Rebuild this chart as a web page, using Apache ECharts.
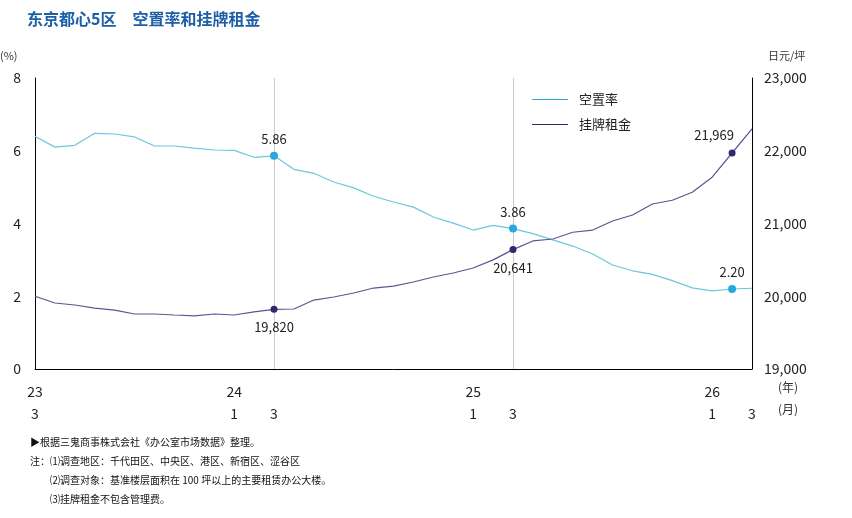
<!DOCTYPE html>
<html><head><meta charset="utf-8">
<script src="https://cdn.jsdelivr.net/npm/echarts@6/dist/echarts.min.js"></script>
<style>body{margin:0}#main{width:852px;height:518px}</style>
</head><body><div id="main"></div>
<script>
// 2023/3 ~ 2026/3 月度
var months = [];
for (var i = 0; i < 37; i++) months.push(i);
var vacancy = [6.40,6.10,6.15,6.48,6.46,6.38,6.13,6.13,6.07,6.02,6.01,5.82,5.86,5.49,5.38,5.14,4.98,4.75,4.59,4.45,4.18,4.01,3.82,3.95,3.86,3.72,3.55,3.38,3.16,2.86,2.70,2.60,2.43,2.23,2.15,2.20,2.22];
var rent = [20000,19907,19880,19838,19810,19756,19756,19742,19729,19756,19742,19784,19820,19825,19948,19990,20045,20113,20140,20196,20265,20320,20388,20500,20641,20760,20787,20880,20910,21034,21117,21268,21320,21430,21637,21969,22302];
var xLabels = {0:'23\n3',10:'24\n1',12:'\n3',22:'25\n1',24:'\n3',34:'26\n1',36:'\n3'};
var vacMarks = {12:'top',24:'top',35:'top'};
var rentMarks = {12:'bottom',24:'bottom',35:'top'};

var vacData = vacancy.map(function(v, i){
  var d = {value: v};
  if (vacMarks[i]) {
    d.symbol = 'circle'; d.symbolSize = 8;
    d.label = {show: true, position: vacMarks[i], formatter: v.toFixed(2), distance: 6};
  }
  if (i == 36) {
    d.symbol = 'circle'; d.symbolSize = 1; d.itemStyle = {opacity: 0};
    d.label = {show: true, position: 'right', formatter: v.toFixed(2), offset: [4,-6]};
  }
  return d;
});
var rentData = rent.map(function(v, i){
  var d = {value: v};
  if (rentMarks[i]) {
    d.symbol = 'circle'; d.symbolSize = 7;
    d.label = {show: true, position: rentMarks[i], formatter: v.toLocaleString('en-US'), distance: 8};
  }
  if (i == 35) d.label.offset = [-18, 0];
  if (i == 36) {
    d.symbol = 'circle'; d.symbolSize = 1; d.itemStyle = {opacity: 0};
    d.label = {show: true, position: 'right', formatter: v.toLocaleString('en-US'), offset: [4,0]};
  }
  return d;
});

var myecharts = echarts.init(document.getElementById('main'));
var font = '"Noto Sans CJK SC", "Noto Sans", sans-serif';
var option = {
  textStyle: {fontFamily: font},
  title: {text: '东京都心5区　空置率和挂牌租金', left: 22, top: 6,
    textStyle: {color: '#1c5ea8', fontSize: 16, fontWeight: 'bold', fontFamily: font}},
  grid: {left: 35, right: 100, top: 78, bottom: 149},
  legend: {
    orient: 'vertical', left: 527, top: 88, itemGap: 12, itemWidth: 36, itemHeight: 10,
    textStyle: {fontSize: 13, color: '#222', padding: [0,0,0,6]},
    data: [{name: '空置率', icon: 'path://M0,5L36,5L36,6L0,6Z'}, {name: '挂牌租金', icon: 'path://M0,5L36,5L36,6L0,6Z'}]
  },
  xAxis: {
    type: 'category', boundaryGap: false, data: months,
    axisLine: {lineStyle: {color: '#000'}},
    axisTick: {show: false},
    axisLabel: {interval: 0, color: '#222', fontSize: 14, lineHeight: 22, margin: 12,
      formatter: function(v){ return xLabels[v] || ''; }},
    splitLine: {show: true, interval: function(i){ return i == 12 || i == 24; },
      lineStyle: {color: '#ccc'}}
  },
  yAxis: [
    {type: 'value', min: 0, max: 8, interval: 2, position: 'left',
      axisLine: {show: true, lineStyle: {color: '#000'}}, axisTick: {show: false},
      axisLabel: {color: '#222', fontSize: 14, margin: 14}, splitLine: {show: false}},
    {type: 'value', min: 19000, max: 23000, interval: 1000, position: 'right',
      axisLine: {show: true, lineStyle: {color: '#000'}}, axisTick: {show: false},
      axisLabel: {color: '#222', fontSize: 14, margin: 12,
        formatter: function(v){ return v.toLocaleString('en-US'); }},
      splitLine: {show: false}}
  ],
  graphic: [
    {type: 'text', left: 0, top: 50, style: {text: '(%)', fontSize: 11, fill: '#333', fontFamily: font}},
    {type: 'text', left: 768, top: 50, style: {text: '日元/坪', fontSize: 11, fill: '#333', fontFamily: font}},
    {type: 'text', left: 778, top: 381, style: {text: '(年)', fontSize: 12, fill: '#333', fontFamily: font}},
    {type: 'text', left: 778, top: 403, style: {text: '(月)', fontSize: 12, fill: '#333', fontFamily: font}},
    {type: 'text', left: 30, top: 433, style: {fontSize: 10, fill: '#111', fontFamily: font, lineHeight: 19,
      text: '▶根据三鬼商事株式会社《办公室市场数据》整理。\n注：⑴调查地区：千代田区、中央区、港区、新宿区、涩谷区\n　　⑵调查对象：基准楼层面积在 100 坪以上的主要租赁办公大楼。\n　　⑶挂牌租金不包含管理费。'}}
  ],
  series: [
    {name: '空置率', type: 'line', yAxisIndex: 0, data: vacData, showSymbol: true,
      symbol: 'none', color: '#6cc6dc', lineStyle: {width: 1.2, color: '#6cc6dc'},
      itemStyle: {color: '#2aa7df'}, label: {color: '#222', fontSize: 13}},
    {name: '挂牌租金', type: 'line', yAxisIndex: 1, data: rentData, showSymbol: true,
      symbol: 'none', color: '#5c5690', lineStyle: {width: 1.2, color: '#5c5690'},
      itemStyle: {color: '#2d2a6e'}, label: {color: '#222', fontSize: 13}}
  ]
};
myecharts.setOption(option);
</script>
</body></html>
